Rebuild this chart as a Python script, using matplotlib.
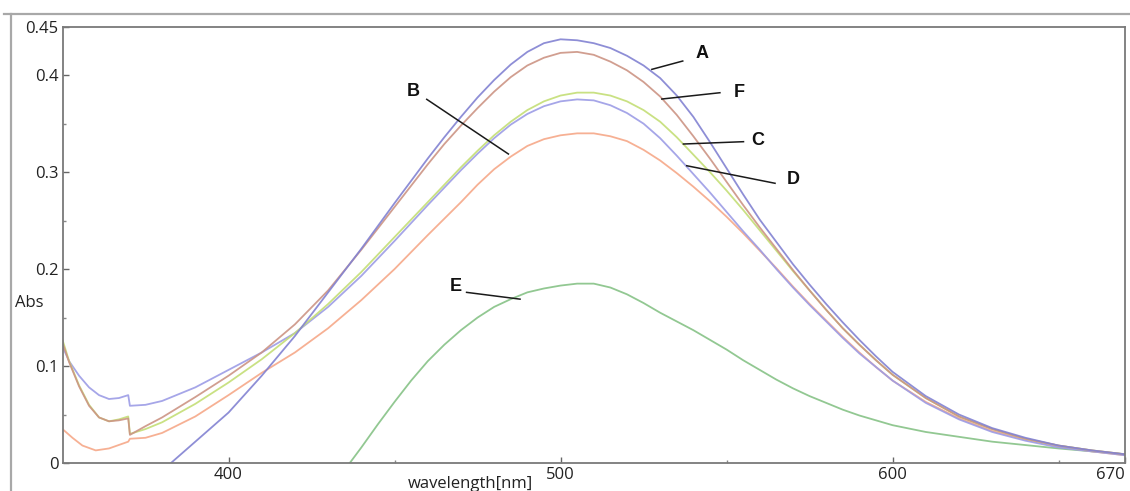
import matplotlib
matplotlib.use("Agg")
import matplotlib.pyplot as plt
from matplotlib.lines import Line2D

# ---------------- data ----------------
grid = [380, 390, 400, 410, 420, 430, 440, 450,
        460, 465, 470, 475, 480, 485, 490, 495, 500, 505, 510, 515, 520, 525,
        530, 535, 540, 545, 550, 555, 560, 565, 570, 575, 580, 585, 590, 595, 600,
        610, 620, 630, 640, 650, 660, 670]

# A: top blue-violet curve (no visible part left of ~382 nm)
A_wl = grid
A_abs = [-0.008, 0.022, 0.052, 0.090, 0.131, 0.176, 0.221, 0.268,
         0.314, 0.336, 0.357, 0.377, 0.395, 0.411, 0.424, 0.433, 0.437, 0.436,
         0.433, 0.428, 0.420, 0.410, 0.397, 0.379, 0.357, 0.331, 0.304, 0.277,
         0.251, 0.228, 0.205, 0.184, 0.164, 0.145, 0.127, 0.110, 0.094,
         0.069, 0.050, 0.036, 0.026, 0.018, 0.013, 0.009]

left_wl = [350, 352, 355, 358, 361, 364, 367, 369.8, 370.3, 375]

# F: brown curve
F_wl = left_wl + grid
F_abs = [0.124, 0.104, 0.079, 0.059, 0.047, 0.043, 0.044, 0.046, 0.029, 0.038,
         0.047, 0.068, 0.090, 0.114, 0.143, 0.178, 0.220, 0.264,
         0.308, 0.329, 0.348, 0.366, 0.383, 0.398, 0.410, 0.418, 0.423, 0.424,
         0.421, 0.414, 0.405, 0.393, 0.378, 0.359, 0.337, 0.314, 0.290, 0.266,
         0.243, 0.221, 0.199, 0.178, 0.158, 0.139, 0.122, 0.106, 0.091,
         0.067, 0.048, 0.035, 0.025, 0.018, 0.013, 0.009]

# C: yellow-green curve
C_wl = left_wl + grid
C_abs = [0.127, 0.105, 0.080, 0.060, 0.047, 0.043, 0.045, 0.048, 0.030, 0.035,
         0.042, 0.061, 0.083, 0.107, 0.134, 0.164, 0.197, 0.233,
         0.269, 0.287, 0.305, 0.322, 0.338, 0.352, 0.364, 0.373, 0.379, 0.382,
         0.382, 0.379, 0.373, 0.364, 0.352, 0.336, 0.318, 0.300, 0.281, 0.261,
         0.240, 0.219, 0.198, 0.178, 0.158, 0.139, 0.122, 0.106, 0.091,
         0.067, 0.048, 0.035, 0.025, 0.018, 0.013, 0.009]

# D: lavender curve
D_wl = left_wl + grid
D_abs = [0.120, 0.105, 0.090, 0.078, 0.070, 0.066, 0.067, 0.070, 0.059, 0.060,
         0.064, 0.078, 0.096, 0.114, 0.134, 0.161, 0.193, 0.229,
         0.266, 0.284, 0.302, 0.319, 0.335, 0.349, 0.360, 0.368, 0.373, 0.375,
         0.374, 0.369, 0.361, 0.350, 0.335, 0.317, 0.298, 0.279, 0.259, 0.239,
         0.220, 0.200, 0.181, 0.163, 0.146, 0.129, 0.113, 0.099, 0.085,
         0.062, 0.045, 0.032, 0.023, 0.016, 0.012, 0.008]

# B: salmon / orange curve
B_wl = [350, 353, 356, 360, 364, 369.8, 370.3, 375] + grid
B_abs = [0.035, 0.026, 0.018, 0.013, 0.015, 0.022, 0.025, 0.026,
         0.031, 0.048, 0.070, 0.093, 0.114, 0.139, 0.168, 0.200,
         0.235, 0.252, 0.269, 0.287, 0.303, 0.316, 0.327, 0.334, 0.338, 0.340,
         0.340, 0.337, 0.332, 0.323, 0.312, 0.299, 0.285, 0.270, 0.254, 0.237,
         0.219, 0.201, 0.182, 0.164, 0.147, 0.130, 0.114, 0.099, 0.085,
         0.063, 0.046, 0.033, 0.024, 0.017, 0.012, 0.008]

# E: green curve
E_wl = [435, 440, 445, 450, 455, 460, 465, 470, 475, 480, 485, 490, 495, 500,
        505, 510, 515, 520, 525, 530, 535, 540, 545, 550, 555, 560, 565, 570,
        575, 580, 585, 590, 595, 600, 610, 620, 630, 640, 650, 660, 670]
E_abs = [-0.007, 0.016, 0.040, 0.063, 0.085, 0.105, 0.122, 0.137, 0.150, 0.161,
         0.169, 0.176, 0.180, 0.183, 0.185, 0.185, 0.181, 0.174, 0.165, 0.155,
         0.146, 0.137, 0.127, 0.117, 0.106, 0.096, 0.086, 0.077, 0.069, 0.062,
         0.055, 0.049, 0.044, 0.039, 0.032, 0.027, 0.022, 0.0185, 0.015, 0.012,
         0.009]

series_names = ["E", "B", "D", "C", "F", "A"]
series_colors = {"A": "#8282d2", "F": "#cc9484", "C": "#c4de76",
                 "D": "#9c9ce6", "B": "#f6a888", "E": "#86c286"}
series_data = {"A": (A_wl, A_abs), "F": (F_wl, F_abs), "C": (C_wl, C_abs),
               "D": (D_wl, D_abs), "B": (B_wl, B_abs), "E": (E_wl, E_abs)}

# labels: text position, leader (start on curve, end near text), data units
label_names = ["A", "F", "C", "D", "B", "E"]
label_text_pos = {"A": (542.5, 0.4225), "F": (553.9, 0.382), "C": (559.4, 0.333),
                  "D": (570.1, 0.2926), "B": (455.7, 0.383), "E": (468.5, 0.1818)}
label_leader = {"A": ((527.5, 0.406), (536.8, 0.4146)),
                "F": ((530.5, 0.3754), (548.0, 0.3819)),
                "C": ((537.0, 0.329), (555.1, 0.3314)),
                "D": ((538.0, 0.3066), (564.6, 0.2885)),
                "B": ((484.3, 0.3187), (459.7, 0.3751)),
                "E": ((487.8, 0.169), (471.7, 0.176))}

x_major = [400, 500, 600, 670]
x_minor = [450, 550, 650]
y_major = [0, 0.1, 0.2, 0.3, 0.4, 0.45]
y_major_labels = ["0", "0.1", "0.2", "0.3", "0.4", "0.45"]
y_minor = [0.05, 0.15, 0.25, 0.35]

# ---------------- figure ----------------
W, H = 1130, 491
fig = plt.figure(figsize=(W / 100, H / 100), dpi=100)
fig.patch.set_facecolor("white")
ax = fig.add_axes([62.5 / W, 28 / H, (1125 - 62.5) / W, (463 - 26.7) / H])

for name in series_names:
    wl, ab = series_data[name]
    ax.plot(wl, ab, color=series_colors[name], lw=1.3, alpha=0.9,
            solid_joinstyle="round")

ax.set_xlim(350, 670)
ax.set_ylim(0, 0.45)

ax.set_xticks(x_major)
ax.set_xticklabels([str(v) for v in x_major])
ax.set_xticks(x_minor, minor=True)
ax.set_yticks(y_major)
ax.set_yticklabels(y_major_labels)
ax.set_yticks(y_minor, minor=True)

tick_font = "Open Sans"
ax.tick_params(which="major", direction="in", length=4, width=1,
               color="#666666", labelsize=12, labelcolor="#222222", pad=3)
ax.tick_params(which="minor", direction="in", length=2.5, width=1,
               color="#888888")
for lab in ax.get_xticklabels() + ax.get_yticklabels():
    lab.set_fontfamily(tick_font)
ax.get_xticklabels()[-1].set_horizontalalignment("right")

for sp in ax.spines.values():
    sp.set_color("#7a7a7a")
    sp.set_linewidth(1.3)

# labels A..F with leader lines
for name in label_names:
    (x0, y0), (x1, y1) = label_leader[name]
    ax.plot([x0, x1], [y0, y1], color="#1a1a1a", lw=1.1)
    tx, ty = label_text_pos[name]
    ax.text(tx, ty, name, fontsize=13, fontweight="bold",
            family="Liberation Sans", ha="center", va="center",
            color="#111111")

# axis titles
fig.text(15 / W, 1 - 303 / H, "Abs", fontsize=12, family=tick_font,
         ha="left", va="center", color="#222222")
fig.text(408 / W, 1 - 484 / H, "wavelength[nm]", fontsize=12, family=tick_font,
         ha="left", va="center", color="#222222")

# outer window frame (grey lines at top and left)
fig.add_artist(Line2D([4 / W, 1.0], [1 - 14 / H, 1 - 14 / H],
                      transform=fig.transFigure, color="#a8a8a8", lw=1.6))
fig.add_artist(Line2D([11 / W, 11 / W], [0, 1 - 14 / H],
                      transform=fig.transFigure, color="#a8a8a8", lw=1.6))

fig.savefig("out.png", dpi=100)
